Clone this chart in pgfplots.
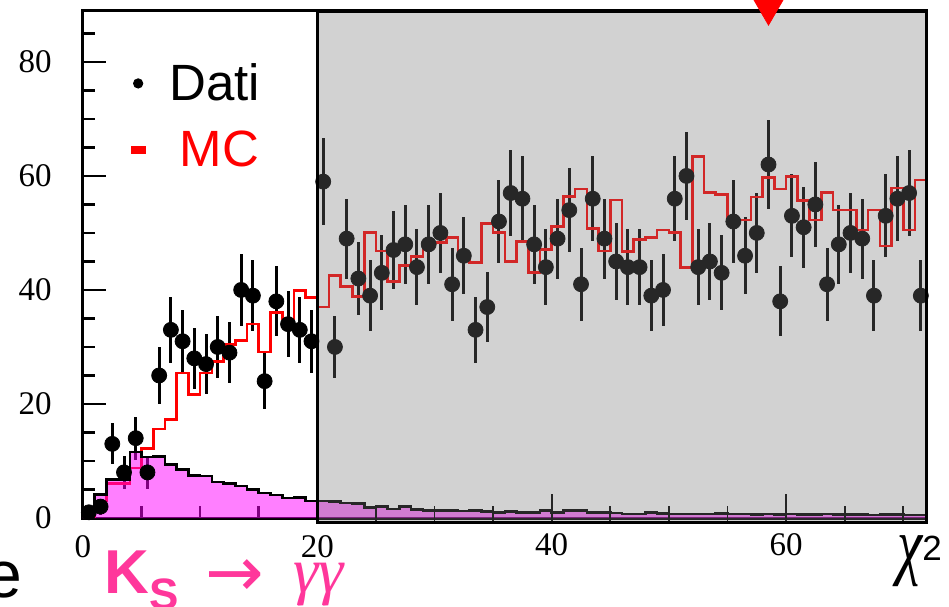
\documentclass[border=0pt]{standalone}
\usepackage{fontspec}
\setmainfont{Liberation Serif}
\setsansfont{Liberation Sans}
\newfontfamily\dejavu{DejaVu Sans}
\usepackage{graphicx}
\usepackage{pgfplots}
\usepackage{pgfplotstable}
\pgfplotsset{compat=1.18}
\definecolor{kpink}{RGB}{255,55,155}
\definecolor{ovgrey}{RGB}{119,119,119}
\definecolor{magRGB}{RGB}{255,0,255}

% data: bin centre, counts, sqrt(counts)
\pgfplotstableread{
x y e
0.5 1 1.00
1.5 2 1.41
2.5 13 3.61
3.5 8 2.83
4.5 14 3.74
5.5 8 2.83
6.5 25 5.00
7.5 33 5.74
8.5 31 5.57
9.5 28 5.29
10.5 27 5.20
11.5 30 5.48
12.5 29 5.39
13.5 40 6.32
14.5 39 6.24
15.5 24 4.90
16.5 38 6.16
17.5 34 5.83
18.5 33 5.74
19.5 31 5.57
20.5 59 7.68
21.5 30 5.48
22.5 49 7.00
23.5 42 6.48
24.5 39 6.24
25.5 43 6.56
26.5 47 6.86
27.5 48 6.93
28.5 44 6.63
29.5 48 6.93
30.5 50 7.07
31.5 41 6.40
32.5 46 6.78
33.5 33 5.74
34.5 37 6.08
35.5 52 7.21
36.5 57 7.55
37.5 56 7.48
38.5 48 6.93
39.5 44 6.63
40.5 49 7.00
41.5 54 7.35
42.5 41 6.40
43.5 56 7.48
44.5 49 7.00
45.5 45 6.71
46.5 44 6.63
47.5 44 6.63
48.5 39 6.24
49.5 40 6.32
50.5 56 7.48
51.5 60 7.75
52.5 44 6.63
53.5 45 6.71
54.5 43 6.56
55.5 52 7.21
56.5 46 6.78
57.5 50 7.07
58.5 62 7.87
59.5 38 6.16
60.5 53 7.28
61.5 51 7.14
62.5 55 7.42
63.5 41 6.40
64.5 48 6.93
65.5 50 7.07
66.5 49 7.00
67.5 39 6.24
68.5 53 7.28
69.5 56 7.48
70.5 57 7.55
71.5 39 6.24
}\dati

% MC histogram: left bin edge, content
\pgfplotstableread{
x y
0 0.3
1 3.0
2 6.1
3 6.1
4 8.8
5 12.2
6 15.6
7 17.3
8 25.4
9 21.7
10 25.4
11 27.4
12 30.4
13 31.1
14 34.0
15 29.1
16 36.0
17 34.9
18 39.9
19 38.7
20 37.0
21 42.5
22 40.6
23 38.9
24 50.1
25 46.8
26 41.5
27 44.3
28 45.9
29 47.9
30 48.3
31 49.2
32 45.7
33 44.8
34 51.7
35 50.1
36 45.0
37 48.5
38 43.1
39 47.1
40 51.1
41 56.4
42 57.7
43 50.8
44 46.8
45 55.8
46 46.7
47 48.9
48 49.2
49 50.5
50 50.1
51 43.9
52 63.4
53 57.1
54 56.7
55 52.2
56 52.3
57 56.3
58 59.7
59 57.7
60 59.9
61 55.7
62 52.3
63 57.1
64 54.0
65 54.0
66 50.5
67 54.0
68 47.7
69 57.9
70 50.5
71 59.3
72 59.3
}\mc

% K_S -> gamma gamma MC histogram: left bin edge, content
\pgfplotstableread{
x y
0 1.5
1 4.1
2 6.8
3 6.8
4 11.6
5 10.7
6 10.8
7 9.4
8 8.5
9 7.5
10 7.4
11 6.3
12 6.0
13 5.6
14 5.0
15 4.4
16 4.0
17 3.5
18 3.6
19 3.0
20 3.0
21 2.9
22 2.6
23 2.5
24 1.8
25 2.0
26 1.6
27 2.0
28 1.5
29 1.3
30 1.3
31 1.3
32 1.2
33 1.3
34 1.1
35 1.0
36 1.1
37 1.0
38 1.0
39 1.3
40 1.0
41 1.3
42 1.3
43 1.0
44 1.0
45 0.9
46 0.7
47 0.7
48 1.0
49 0.8
50 0.7
51 0.7
52 0.7
53 0.7
54 0.8
55 0.7
56 0.7
57 0.6
58 0.7
59 0.6
60 0.7
61 0.6
62 0.6
63 0.7
64 0.6
65 0.6
66 0.6
67 0.5
68 0.6
69 0.6
70 0.5
71 0.5
72 0.5
}\ksgg

\begin{document}
\begin{tikzpicture}
\begin{axis}[
  at={(41.5pt,44pt)}, anchor=south west,
  scale only axis, width=421.85pt, height=254pt,
  xmin=0, xmax=72, ymin=0, ymax=89.1,
  clip=false,
  axis line style={line width=1.5pt},
  tick pos=left, tick align=inside,
  xtick={0,20}, minor xtick={5,10,15},
  ytick={0,20,40,60,80},
  minor ytick={5,10,15,25,30,35,45,50,55,65,70,75,85},
  major tick length=11.5pt, minor tick length=6pt,
  every tick/.style={black, line width=1.3pt},
  /pgf/number format/assume math mode=true,
  tick label style={font=\fontsize{16.5}{16.5}\selectfont},
  xticklabel style={anchor=center, yshift=-14.5pt},
  yticklabel style={anchor=east, inner sep=0pt, xshift=-15.5pt},
  legend style={draw=none, fill=none, at={(axis cs:3.53,81.2)}, anchor=north west,
    font=\sffamily\fontsize{25.5}{25.5}\selectfont, row sep=9.5pt,
    /tikz/every odd column/.append style={column sep=10pt}},
  legend cell align=left,
]
\addplot[only marks, mark=*, mark size=3.75pt, black, forget plot,
  error bars/.cd, y dir=both, y explicit,
  error bar style={line width=1.5pt}, error mark=none]
  table[x=x, y=y, y error=e] {\dati};
\addplot[red, line width=1.3pt, const plot, forget plot] table[x=x,y=y] {\mc};
\addplot[const plot, draw=none, fill=magRGB, fill opacity=0.5, forget plot]
  table[x=x,y=y] {\ksgg} \closedcycle;
\addplot[const plot, black, line width=1.3pt, forget plot] table[x=x,y=y] {\ksgg};
\addlegendimage{legend image code/.code={\fill[black] (0pt,0pt) circle (2.35pt);}}
\addlegendimage{legend image code/.code={\fill[red] (-3.5pt,-1.65pt) rectangle (3.5pt,1.65pt);}}
\legend{Dati,\textcolor{red}{\hspace{5pt}MC}}
\end{axis}

\begin{axis}[
  at={(158.7pt,41.65pt)}, anchor=south west,
  scale only axis, width=304.65pt, height=255.85pt,
  xmin=20, xmax=72, ymin=-0.82, ymax=88.95,
  clip=false,
  axis background/.style={fill=ovgrey, fill opacity=0.33},
  axis line style={line width=1.5pt},
  tick pos=left, tick align=inside,
  xtick={40,60}, minor xtick={25,30,35,45,50,55,65,70},
  ytick=\empty,
  major tick length=14.5pt, minor tick length=8.5pt,
  every tick/.style={black!85, line width=0.9pt},
  /pgf/number format/assume math mode=true,
  tick label style={font=\fontsize{16.5}{16.5}\selectfont},
  xticklabel style={anchor=center, yshift=-11pt},
]
\addplot[only marks, mark=triangle*, mark size=9.2pt, red, mark options={rotate=180}]
  coordinates {(58.5,89.7)};
\end{axis}

\node[anchor=base east, inner sep=0pt] at (11.5pt,4.5pt)
  {\sffamily\fontsize{33}{33}\selectfont e};
\node[anchor=base west, inner sep=0pt, text=kpink] at (52pt,6.5pt)
  {\sffamily\bfseries\fontsize{31}{31}\selectfont K\raisebox{-8.25pt}{\fontsize{22}{22}\selectfont S}};
\node[anchor=center, inner sep=0pt, text=kpink] at (117.5pt,14pt)
  {\dejavu\fontsize{35}{35}\selectfont →};
\node[anchor=base west, inner sep=0pt, text=kpink] at (146.5pt,7pt)
  {\itshape\fontsize{32}{32}\selectfont γγ};
\node[anchor=base west, inner sep=0pt] at (448.5pt,18pt)
  {\scalebox{0.75}[1]{\itshape\fontsize{38}{38}\selectfont χ}\raisebox{5pt}{\sffamily\fontsize{17.5}{17.5}\selectfont 2}};

\pgfresetboundingbox
\path[use as bounding box] (0,0) rectangle (474.5pt,303pt);
\end{tikzpicture}
\end{document}
